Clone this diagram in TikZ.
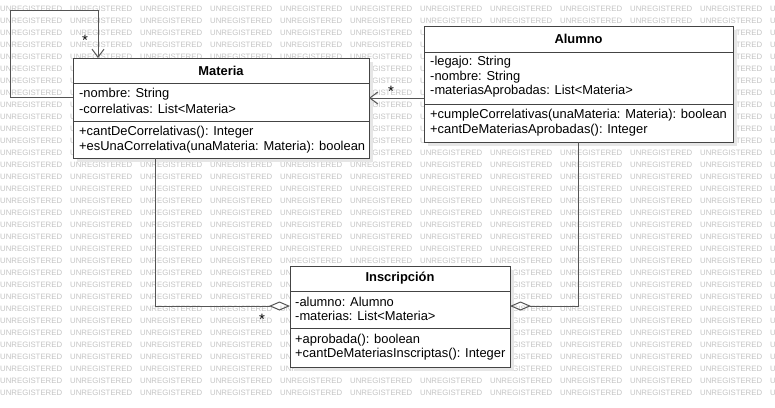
\documentclass[tikz,border=0pt]{standalone}
\usepackage{fontspec}
\setmainfont{Liberation Sans}
\usetikzlibrary{arrows.meta,calc}
\definecolor{wm}{HTML}{C4C4C4}
\definecolor{ln}{HTML}{555555}
\definecolor{bd}{HTML}{444444}
\definecolor{sh}{HTML}{E6E6E6}
\begin{document}
\begin{tikzpicture}[x=1pt,y=-1pt,
 box/.style={draw=bd,line width=1pt,fill=white,anchor=north west,inner sep=0pt,outer sep=0pt},
 divider/.style={draw=bd,line width=1pt},
 txt/.style={anchor=west,font=\fontsize{12.9}{15}\selectfont,inner sep=0pt},
 ttl/.style={font=\fontsize{12.9}{15}\selectfont\bfseries,inner sep=0pt},
 wmk/.style={anchor=west,font=\fontsize{7.8}{8}\selectfont,text=wm,inner sep=0pt},
 conn/.style={draw=ln,line width=1pt},
 assoc/.style={conn,-{Straight Barb[length=8pt,width=12pt]}},
 aggr/.style={conn,{Diamond[open,length=21pt,width=9pt]}-},
 mult/.style={font=\fontsize{15}{16}\selectfont,inner sep=0pt}]
\useasboundingbox (0,0) rectangle (775,407);
\fill[white] (0,0) rectangle (775,407);
% watermark
\begin{scope}
\clip (0,0) rectangle (775,407);
\foreach \j in {0,...,32}{\foreach \i in {0,...,11}{\node[wmk] (w\i-\j) at ({70*\i},{9+12*\j}) {UNREGISTERED};}}
\end{scope}
% shadows
\fill[sh] (77,62) rectangle (373,162);
\fill[sh] (428,30) rectangle (737,146);
\fill[sh] (294,270) rectangle (514,371);
% Materia
\node[box,minimum width=296pt,minimum height=100pt] (mat) at (73,58) {};
\draw[divider] (mat.west |- 0,83) -- (mat.east |- 0,83);
\draw[divider] (mat.west |- 0,121) -- (mat.east |- 0,121);
\node[ttl] (matT) at (221,71) {Materia};
\node[txt] (mat1) at (79,94) {-nombre: String};
\node[txt] (mat2) at (79,108.5) {-correlativas: List<Materia>};
\node[txt] (mat3) at (79,132) {+cantDeCorrelativas(): Integer};
\node[txt] (mat4) at (79,147) {+esUnaCorrelativa(unaMateria: Materia): boolean};
% Alumno
\node[box,minimum width=309pt,minimum height=116pt] (alu) at (424,26) {};
\draw[divider] (alu.west |- 0,52) -- (alu.east |- 0,52);
\draw[divider] (alu.west |- 0,104) -- (alu.east |- 0,104);
\node[ttl] (aluT) at (578.5,38.5) {Alumno};
\node[txt] (alu1) at (430,62) {-legajo: String};
\node[txt] (alu2) at (430,77) {-nombre: String};
\node[txt] (alu3) at (430,91.5) {-materiasAprobadas: List<Materia>};
\node[txt] (alu4) at (430,115.5) {+cumpleCorrelativas(unaMateria: Materia): boolean};
\node[txt] (alu5) at (430,130) {+cantDeMateriasAprobadas(): Integer};
% Inscripcion
\node[box,minimum width=220pt,minimum height=101pt] (ins) at (290,266) {};
\draw[divider] (ins.west |- 0,291) -- (ins.east |- 0,291);
\draw[divider] (ins.west |- 0,328) -- (ins.east |- 0,328);
\node[ttl] (insT) at (400,278.5) {Inscripción};
\node[txt] (ins1) at (295,301.5) {-alumno: Alumno};
\node[txt] (ins2) at (295,316) {-materias: List<Materia>};
\node[txt] (ins3) at (295,340) {+aprobada(): boolean};
\node[txt] (ins4) at (295,354.5) {+cantDeMateriasInscriptas(): Integer};
% connectors
\coordinate (c1) at (10,97);
\coordinate (c2) at (10,10);
\coordinate (c3) at (98,10);
\draw[assoc] (mat.west |- c1) -- (c1) -- (c2) -- (c3) -- (mat.north -| c3);
\node[mult] (m1) at (85,40) {*};
\draw[assoc] (alu.west |- 0,98) -- (mat.east |- 0,98);
\node[mult] (m2) at (391,91) {*};
\coordinate (c4) at (155,306);
\draw[aggr] (ins.west |- c4) -- (c4) -- (mat.south -| c4);
\node[mult] (m3) at (262,319) {*};
\coordinate (c5) at (578,306);
\draw[aggr] (ins.east |- c5) -- (c5) -- (alu.south -| c5);
\end{tikzpicture}
\end{document}
